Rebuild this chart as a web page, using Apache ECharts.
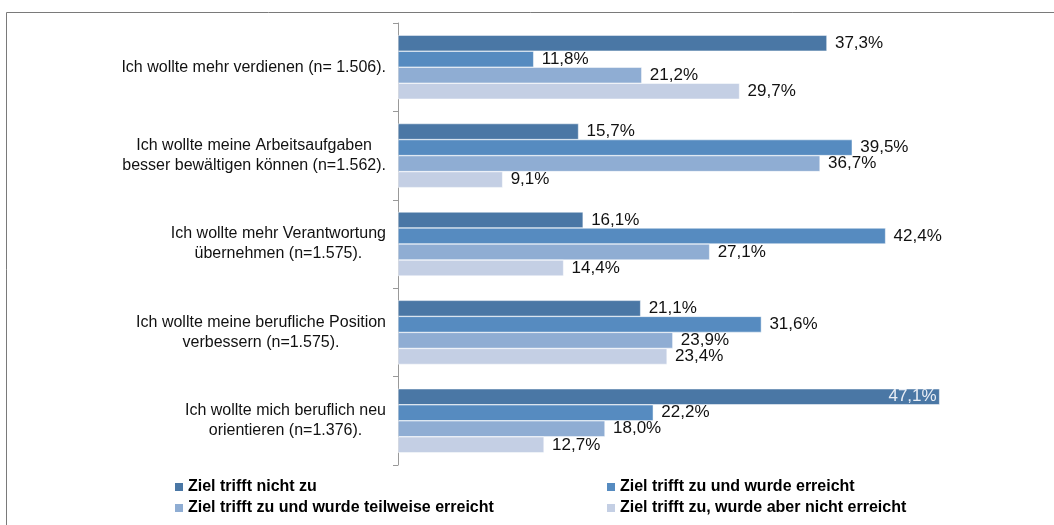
<!DOCTYPE html>
<html><head><meta charset="utf-8">
<script src="https://cdn.jsdelivr.net/npm/echarts@6/dist/echarts.min.js"></script>
<style>html,body{margin:0;padding:0;background:#fff}#c{width:1054px;height:525px}</style>
</head><body><div id="c"></div>
<script>
const categories = [
  "Ich wollte mehr verdienen (n= 1.506).",
  "Ich wollte meine Arbeitsaufgaben\nbesser bewältigen können (n=1.562).",
  "Ich wollte mehr Verantwortung\nübernehmen (n=1.575).",
  "Ich wollte meine berufliche Position\nverbessern (n=1.575).",
  "Ich wollte mich beruflich neu\norientieren (n=1.376)."
];
const seriesNames = [
  "Ziel trifft nicht zu",
  "Ziel trifft zu und wurde erreicht",
  "Ziel trifft zu und wurde teilweise erreicht",
  "Ziel trifft zu, wurde aber nicht erreicht"
];
const nichtZu = [37.3, 15.7, 16.1, 21.1, 47.1];
const erreicht = [11.8, 39.5, 42.4, 31.6, 22.2];
const teilweise = [21.2, 36.7, 27.1, 23.9, 18.0];
const nichtErreicht = [29.7, 9.1, 14.4, 23.4, 12.7];
const colors = ["#4a77a5", "#568bc0", "#8fadd3", "#c4cfe4"];

const FONT = 'Liberation Sans, Arial, sans-serif';
const allValues = [nichtZu, erreicht, teilweise, nichtErreicht];
const fmt = v => v.toFixed(1).replace('.', ',') + '%';

const series = allValues.map((vals, i) => ({
  name: seriesNames[i],
  type: 'bar',
  barGap: '0%',
  barCategoryGap: '27.5%',
  itemStyle: { color: colors[i], borderColor: '#ffffff', borderWidth: 0.5 },
  label: {
    show: true, position: 'right', distance: 8,
    color: '#111', fontSize: 17, fontFamily: FONT,
    formatter: p => fmt(p.value)
  },
  data: vals.map(v => v > 45 ? {
    value: v,
    label: { position: 'insideRight', distance: 3, color: '#e9eef6' }
  } : v),
  animation: false
}));

const legendText = { fontSize: 16, fontWeight: 'bold', color: '#000', fontFamily: FONT };
const legendItem = { borderWidth: 0 };

const chart = echarts.init(document.getElementById('c'), null, { renderer: 'canvas' });
chart.setOption({
  animation: false,
  textStyle: { fontFamily: FONT },
  graphic: [{
    type: 'rect', silent: true, z: -1,
    shape: { x: 6.5, y: 12.5, width: 1200, height: 700 },
    style: { fill: 'none', stroke: '#7a7a7a', lineWidth: 1 }
  }],
  grid: { left: 398, top: 23, bottom: 60, right: 81, containLabel: false },
  xAxis: { type: 'value', min: 0, max: 50, show: false },
  yAxis: {
    type: 'category', inverse: true, data: categories,
    axisLine: { show: true, lineStyle: { color: '#999999', width: 1 } },
    axisTick: { show: true, length: 5, lineStyle: { color: '#999999' } },
    axisLabel: {
      align: 'right', margin: 12,
      formatter: v => v.split('\n').map(l => '{c|' + l + '}').join('\n'),
      rich: { c: { align: 'center', color: '#111', fontSize: 16, lineHeight: 20, fontFamily: FONT } }
    }
  },
  legend: [{
    orient: 'vertical', left: 170, top: 474, itemWidth: 8, itemHeight: 8, itemGap: 5,
    icon: 'rect', itemStyle: legendItem,
    data: [seriesNames[0], seriesNames[2]], textStyle: legendText
  }, {
    orient: 'vertical', left: 602, top: 474, itemWidth: 8, itemHeight: 8, itemGap: 5,
    icon: 'rect', itemStyle: legendItem,
    data: [seriesNames[1], seriesNames[3]], textStyle: legendText
  }],
  series: series
});
</script>
</body></html>
